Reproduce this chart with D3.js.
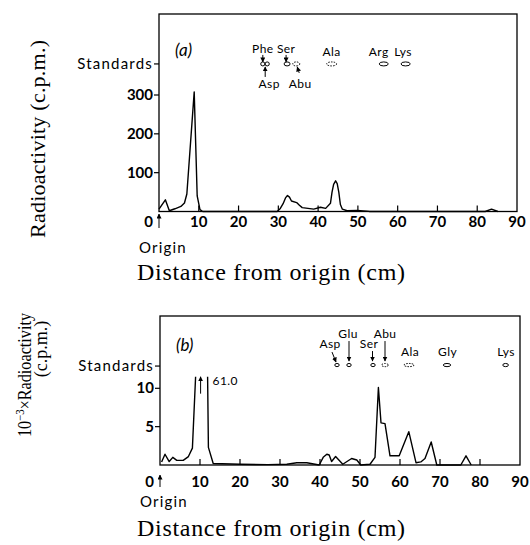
<!DOCTYPE html>
<html>
<head>
<meta charset="utf-8">
<style>
  body { margin: 0; background: #fff; }
  svg { display: block; }
  .frame { fill: none; stroke: #000; stroke-width: 1.3px; }
  .trace { fill: none; stroke: #000; stroke-width: 1.4px; stroke-linejoin: round; }
  .tick { stroke: #000; stroke-width: 1.2px; }
  .num { font: bold 15px Lato, sans-serif; }
  .lbl { font: 15px Lato, sans-serif; letter-spacing: 1.2px; }
  .std { font: 12px Lato, sans-serif; letter-spacing: 0.4px; }
  .panel { font: italic 17px Lato, sans-serif; }
  .title { font: 24px "Liberation Serif", serif; }
  .spot { fill: none; stroke: #000; stroke-width: 1px; }
  .spot.dashed { stroke-dasharray: 1.5 1.2; }
  .arr { stroke: #000; stroke-width: 1px; fill: none; }
</style>
</head>
<body>
<script src="https://d3js.org/d3.v7.min.js"></script>
<script>

  // ---- data ----
  // (a) radioactivity, c.p.m., against distance from origin (cm)
  var distA = [0, 1.6, 2.6, 4, 5.5, 6.4, 7.0, 8.85, 9.6, 10.3, 11, 29.7, 30.5, 31.2, 31.8, 32.3, 32.8, 33.3, 34.6, 35.3, 36, 38.9,
               40.6, 41.9, 43.1, 43.5, 43.9, 44.4, 44.8, 45.2, 45.6, 46.1, 47.3, 49.8, 52.3, 53, 82, 83.6, 85.2];
  var radA  = [6, 30, 2, 7, 13, 22, 45, 308, 40, 5, 0, 0, 8, 20, 35, 41, 37, 27, 23, 16, 10, 6,
               11, 8, 21, 50, 70, 79, 72, 50, 18, 6, 2, 3, 1, 0, 0, 6, 0];

  // (b) 10^-3 x radioactivity; the peak near 10 cm (61.0) runs off the drawn scale
  var distB = [0.4, 1.25, 2.3, 3.2, 4.2, 5.8, 7.1, 8.1, 8.9, 10.4, 11.9, 12.1, 13.3, 20, 27, 31.7, 34.2, 36.7, 39.8, 40.8, 41.7, 42.3,
               42.9, 43.9, 45.7, 47.9, 49.2, 50.2, 52.5, 53.75, 54.6, 55.25, 56.25, 57.5, 59.8, 62.2, 64, 65.2, 66.25, 67.8,
               69.2, 75.2, 76.5, 77.8];
  var radB  = [0.4, 1.4, 0.45, 1.0, 0.6, 0.6, 1.1, 2.2, 11.5, 61.0, 11.5, 2.3, 0.2, 0.1, 0.05, 0.1, 0.3, 0.3, 0, 1.0, 1.4, 1.3,
               0.45, 1.1, 0.1, 0.85, 0.65, 0, 0.1, 1.0, 10.1, 5.5, 5.4, 1.2, 1.2, 4.35, 0.3, 0.4, 0.85, 3.0,
               0, 0, 1.2, 0];
  var offScaleB = { dist: 10.4, value: 61.0, shownTo: 11.5 };

  var xTicks  = [0, 10, 20, 30, 40, 50, 60, 70, 80, 90];
  var yTicksA = [100, 200, 300];
  var yTicksB = [5, 10];

  // standards row (position along the strip, cm)
  var stdNamesA = ["Phe", "Asp", "Ser", "Abu", "Ala", "Arg", "Lys"];
  var stdPosA   = [26.1, 27.2, 32.2, 34.5, 43.4, 56.5, 62.0];
  var stdNamesB = ["Asp", "Glu", "Ser", "Abu", "Ala", "Gly", "Lys"];
  var stdPosB   = [44.25, 47.25, 53.25, 56.25, 62.25, 71.75, 86.4];

  // ---- layout ----
  var svg = d3.select("body").append("svg")
      .attr("width", 530)
      .attr("height", 545);

  svg.append("defs").append("marker")
      .attr("id", "head")
      .attr("viewBox", "0 0 10 10")
      .attr("refX", 9).attr("refY", 5)
      .attr("markerWidth", 5).attr("markerHeight", 5)
      .attr("markerUnits", "userSpaceOnUse")
      .attr("orient", "auto")
      .append("path").attr("d", "M0,0L10,5L0,10z").attr("fill", "#000");

  // spot shapes and label placement: [label dx, label baseline, arrow x1,y1,x2,y2 (relative to spot) or null, rx, dashed]
  var stdLayoutA = [
    [0, -11, [0, -9, 0, -2], 2.1, false],
    [2, 24, [-2, 13, -2, 3], 2.1, false],
    [-1, -11, [-1, -9, -1, -2], 3, false],
    [4, 24, [3, 9, 1, 3], 3.5, true],
    [0, -8, null, 5, true],
    [-5, -8, null, 4.5, false],
    [-2.5, -8, null, 4.6, false]
  ];
  var stdLayoutB = [
    [-7, -17, [-5, -13, -1, -3], 2.2, false],
    [-1, -27, [0, -24, 0, -4], 2.2, false],
    [-4, -17, [-0.5, -14, -0.5, -4], 2.2, false],
    [0, -27, [0, -24, 0, -4], 3.3, true],
    [1, -9, null, 5, true],
    [0.5, -9, null, 3.7, false],
    [0.5, -9, null, 2.8, false]
  ];

  var panels = [
    { id: "a", dist: distA, rad: radA, yTicks: yTicksA, stdLevel: 380,
      x: [159, 517], y: [0, 300, 211.5, 95], top: 14, tickLabelDy: 15.5,
      names: stdNamesA, pos: stdPosA, lay: stdLayoutA, spotDy: 0, ry: 2,
      panelLabel: [175, 56], originDy: [16.5, 2.5, 41.5], titleY: 280 },
    { id: "b", dist: distB, rad: radB, yTicks: yTicksB, stdLevel: 12.9,
      x: [160, 520], y: [0, 10, 465, 388.3], top: 316, tickLabelDy: 22,
      names: stdNamesB, pos: stdPosB, lay: stdLayoutB, spotDy: -1, ry: 1.6,
      panelLabel: [176, 351], originDy: [22, 10, 42], titleY: 536 }
  ];

  panels.forEach(function(p) {
    var x = d3.scaleLinear().domain([0, 90]).range(p.x);
    var y = d3.scaleLinear().domain([p.y[0], p.y[1]]).range([p.y[2], p.y[3]]);
    var bottom = y(0);
    var g = svg.append("g");

    g.append("rect")
        .attr("class", "frame")
        .attr("x", x(0)).attr("y", p.top)
        .attr("width", x(90) - x(0)).attr("height", bottom - p.top);

    // x ticks point inward
    g.selectAll(".xt").data(xTicks.slice(1, -1)).enter().append("line")
        .attr("class", "tick")
        .attr("x1", d => x(d)).attr("x2", d => x(d))
        .attr("y1", bottom).attr("y2", bottom - 6);

    g.selectAll(".xl").data(xTicks).enter().append("text")
        .attr("class", "num")
        .attr("x", d => d === 0 ? x(d) - 6 : x(d))
        .attr("y", bottom + p.tickLabelDy)
        .attr("text-anchor", d => d === 0 ? "end" : "middle")
        .text(d => d);

    // y ticks point outward
    var yAll = p.yTicks.concat([p.stdLevel]);
    g.selectAll(".yt").data(yAll).enter().append("line")
        .attr("class", "tick")
        .attr("x1", x(0) - 5).attr("x2", x(0))
        .attr("y1", d => y(d)).attr("y2", d => y(d));

    g.selectAll(".yl").data(p.yTicks).enter().append("text")
        .attr("class", "num")
        .attr("x", x(0) - 6).attr("y", d => y(d) + 5)
        .attr("text-anchor", "end")
        .text(d => d);

    g.append("text")
        .attr("class", "lbl")
        .attr("x", x(0) - 6).attr("y", y(p.stdLevel) + 5)
        .attr("text-anchor", "end")
        .text("Standards");

    // origin marker
    g.append("line")
        .attr("class", "arr")
        .attr("marker-end", "url(#head)")
        .attr("x1", x(0)).attr("x2", x(0))
        .attr("y1", bottom + p.originDy[0]).attr("y2", bottom + p.originDy[1]);
    g.append("text")
        .attr("class", "lbl")
        .attr("x", x(0) + 4).attr("y", bottom + p.originDy[2])
        .attr("text-anchor", "middle")
        .text("Origin");

    g.append("text")
        .attr("class", "panel")
        .attr("x", p.panelLabel[0]).attr("y", p.panelLabel[1])
        .text("(" + p.id + ")");

    // trace
    var pts = p.dist.map((d, i) => [d, p.rad[i]]);
    var line = d3.line().x(d => x(d[0])).y(d => y(d[1]));
    var path = g.append("path")
        .datum(pts)
        .attr("class", "trace")
        .attr("d", line);

    if (p.id === "b") {
      svg.select("defs").append("clipPath").attr("id", "clipB")
        .append("rect")
        .attr("x", x(0)).attr("y", y(offScaleB.shownTo))
        .attr("width", x(90) - x(0)).attr("height", bottom - y(offScaleB.shownTo) + 2);
      path.attr("clip-path", "url(#clipB)");

      g.append("line")
          .attr("class", "arr")
          .attr("marker-end", "url(#head)")
          .attr("stroke-width", 1.4)
          .attr("x1", x(offScaleB.dist) - 1).attr("x2", x(offScaleB.dist) - 1)
          .attr("y1", y(9.3)).attr("y2", y(offScaleB.shownTo));
      g.append("text")
          .attr("class", "std")
          .attr("x", x(offScaleB.dist) + 11).attr("y", y(10.4))
          .style("font-size", "12px")
          .text(offScaleB.value.toFixed(1));
    }

    // standards row
    var sy = y(p.stdLevel) + p.spotDy;
    p.names.forEach(function(name, i) {
      var L = p.lay[i], sx = x(p.pos[i]);
      g.append("ellipse")
          .attr("class", "spot" + (L[4] ? " dashed" : ""))
          .attr("cx", sx).attr("cy", sy)
          .attr("rx", L[3]).attr("ry", p.ry);
      g.append("text")
          .attr("class", "std")
          .attr("x", sx + L[0]).attr("y", sy + L[1])
          .attr("text-anchor", "middle")
          .text(name);
      if (L[2]) {
        g.append("line")
            .attr("class", "arr")
            .attr("marker-end", "url(#head)")
            .attr("x1", sx + L[2][0]).attr("y1", sy + L[2][1])
            .attr("x2", sx + L[2][2]).attr("y2", sy + L[2][3]);
      }
    });

    // x title
    svg.append("text")
        .attr("class", "title")
        .attr("x", 137).attr("y", p.titleY)
        .attr("textLength", 268)
        .attr("lengthAdjust", "spacing")
        .text("Distance from origin (cm)");
  });

  // y titles
  svg.append("text")
      .attr("class", "title")
      .attr("transform", "translate(45,238) rotate(-90)")
      .style("font-size", "22px")
      .attr("textLength", 198)
      .attr("lengthAdjust", "spacing")
      .text("Radioactivity (c.p.m.)");

  var tb = svg.append("text")
      .attr("class", "title")
      .attr("transform", "translate(31,437) rotate(-90)")
      .style("font-size", "18px")
      .attr("textLength", 124)
      .attr("lengthAdjust", "spacingAndGlyphs");
  tb.append("tspan").text("10");
  tb.append("tspan").attr("dy", -7).style("font-size", "12px").text("\u22123");
  tb.append("tspan").attr("dy", 7).text("\u00d7Radioactivity");

  svg.append("text")
      .attr("class", "title")
      .attr("transform", "translate(47,349) rotate(-90)")
      .attr("text-anchor", "middle")
      .style("font-size", "18px")
      .text("(c.p.m.)");

</script>
</body>
</html>
